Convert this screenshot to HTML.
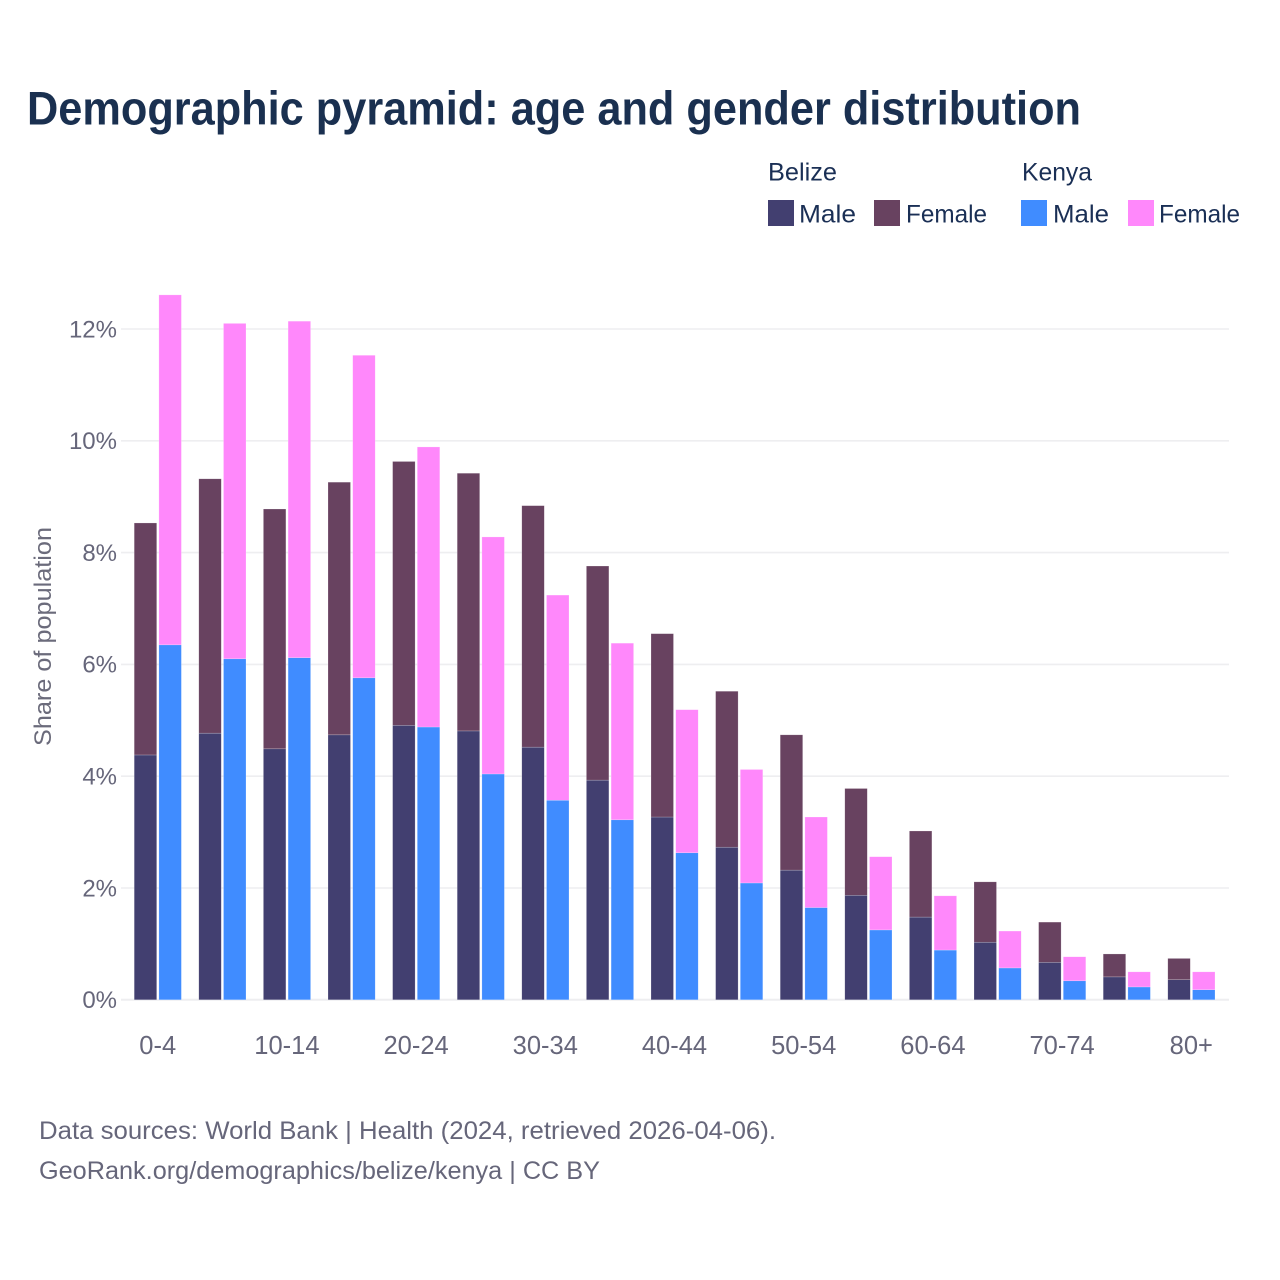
<!DOCTYPE html>
<html lang="en">
<head>
<meta charset="utf-8">
<title>Demographic pyramid: age and gender distribution</title>
<style>
html,body{margin:0;padding:0;background:#fff}
svg{display:block}
text{font-family:"Liberation Sans",sans-serif}
</style>
</head>
<body>
<svg id="chart" xmlns="http://www.w3.org/2000/svg" width="1280" height="1280" viewBox="0 0 1280 1280">
  <rect width="1280" height="1280" fill="#ffffff"/>
  <text x="27" y="124.5" font-size="47" font-weight="700" fill="#1a3050" textLength="1054" lengthAdjust="spacingAndGlyphs">Demographic pyramid: age and gender distribution</text>

  <g font-size="25" fill="#1a2f55">
    <text x="768" y="180.5" textLength="69" lengthAdjust="spacingAndGlyphs">Belize</text>
    <text x="1022" y="180.5" textLength="70" lengthAdjust="spacingAndGlyphs">Kenya</text>
    <g>
      <rect x="768" y="200" width="26" height="26" fill="#423f70"/>
      <text x="799" y="222.5" textLength="57" lengthAdjust="spacingAndGlyphs">Male</text>
    </g>
    <g>
      <rect x="874" y="200" width="26" height="26" fill="#684260"/>
      <text x="906" y="222.5" textLength="81" lengthAdjust="spacingAndGlyphs">Female</text>
    </g>
    <g>
      <rect x="1021" y="200" width="26" height="26" fill="#408cff"/>
      <text x="1053" y="222.5" textLength="56" lengthAdjust="spacingAndGlyphs">Male</text>
    </g>
    <g>
      <rect x="1128" y="200" width="26" height="26" fill="#ff88fb"/>
      <text x="1159" y="222.5" textLength="81" lengthAdjust="spacingAndGlyphs">Female</text>
    </g>
  </g>

  <g id="grid"></g>
  <g id="y-ticks"></g>
  <g id="x-ticks"></g>
  <g id="bars"></g>

  <text transform="translate(51,746) rotate(-90)" font-size="24" fill="#6b6b7b" textLength="219" lengthAdjust="spacingAndGlyphs">Share of population</text>

  <text x="39" y="1139" font-size="25" fill="#66667a" textLength="737" lengthAdjust="spacingAndGlyphs">Data sources: World Bank | Health (2024, retrieved 2026-04-06).</text>
  <text x="39" y="1179" font-size="25" fill="#66667a" textLength="561" lengthAdjust="spacingAndGlyphs">GeoRank.org/demographics/belize/kenya | CC BY</text>
</svg>
<script>
var categories = ["0-4","5-9","10-14","15-19","20-24","25-29","30-34","35-39","40-44","45-49","50-54","55-59","60-64","65-69","70-74","75-79","80+"];
var belizeMale = [4.38,4.77,4.49,4.74,4.91,4.81,4.52,3.93,3.27,2.73,2.32,1.87,1.48,1.03,0.67,0.41,0.36];
var belizeFemale = [4.15,4.55,4.29,4.52,4.72,4.61,4.32,3.83,3.28,2.79,2.42,1.91,1.54,1.08,0.72,0.41,0.38];
var kenyaMale = [6.35,6.10,6.12,5.76,4.88,4.04,3.57,3.22,2.63,2.09,1.65,1.25,0.89,0.57,0.34,0.23,0.18];
var kenyaFemale = [6.26,6.00,6.02,5.77,5.01,4.24,3.67,3.16,2.56,2.03,1.62,1.31,0.97,0.66,0.43,0.27,0.32];
var yTicks = [0,2,4,6,8,10,12];

var NS = "http://www.w3.org/2000/svg";
function yScale(v) { return 999.8 - v * 55.9; }
function xScale(i) { return 157.7 + 64.6 * i; }
function make(tag, parent) {
  var el = document.createElementNS(NS, tag);
  parent.appendChild(el);
  return el;
}

var gridGroup = document.getElementById("grid");
var yTickGroup = document.getElementById("y-ticks");
yTicks.forEach(function (t) {
  var line = make("line", gridGroup);
  
  
  line.setAttribute("x1", 121);
  line.setAttribute("x2", 1229);
  line.setAttribute("y1", yScale(t));
  line.setAttribute("y2", yScale(t));
  line.setAttribute("stroke", "#eeeef0");
  line.setAttribute("stroke-width", t === 0 ? 2 : 1.6);
  var label = make("text", yTickGroup);
  
  
  label.setAttribute("x", 117);
  label.setAttribute("y", yScale(t) + 8.3);
  label.setAttribute("text-anchor", "end");
  label.setAttribute("font-size", 24);
  label.setAttribute("fill", "#66667a");
  label.textContent = t + "%";
});

var xTickGroup = document.getElementById("x-ticks");
categories.forEach(function (c, i) {
  if (i % 2 !== 0) return;
  var label = make("text", xTickGroup);
  
  
  label.setAttribute("x", xScale(i));
  label.setAttribute("y", 1054);
  label.setAttribute("text-anchor", "middle");
  label.setAttribute("font-size", 25.5);
  label.setAttribute("fill", "#66667a");
  label.textContent = c;
});

var barGroup = document.getElementById("bars");
var BAR_W = 22.5;
function drawSegment(x, v0, v1, fill, name) {
  var r = make("rect", barGroup);
  
  
  r.setAttribute("x", x);
  r.setAttribute("y", yScale(v1));
  r.setAttribute("width", BAR_W);
  r.setAttribute("height", yScale(v0) - yScale(v1));
  r.setAttribute("fill", fill);
  r.setAttribute("stroke", "#ffffff");
  r.setAttribute("stroke-opacity", "0.4");
  r.setAttribute("stroke-width", "0.5");
}
categories.forEach(function (c, i) {
  var bx = xScale(i) - 23.5;
  var kx = xScale(i) + 1.2;
  drawSegment(bx, 0, belizeMale[i], "#423f70", "bar-belize-male");
  drawSegment(bx, belizeMale[i], belizeMale[i] + belizeFemale[i], "#684260", "bar-belize-female");
  drawSegment(kx, 0, kenyaMale[i], "#408cff", "bar-kenya-male");
  drawSegment(kx, kenyaMale[i], kenyaMale[i] + kenyaFemale[i], "#ff88fb", "bar-kenya-female");
});
</script>
</body>
</html>
